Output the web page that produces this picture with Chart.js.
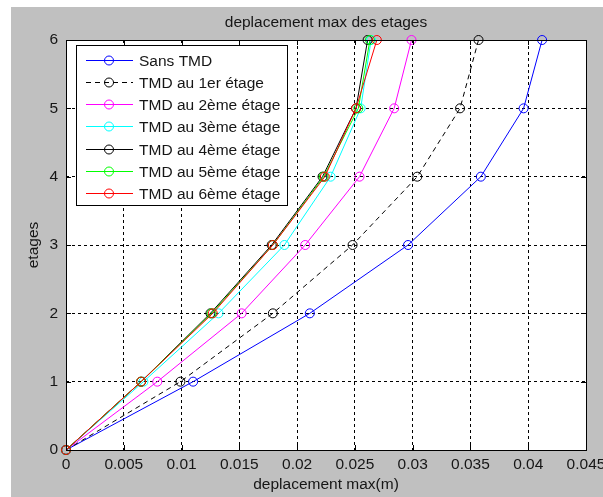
<!DOCTYPE html>
<html>
<head>
<meta charset="utf-8">
<script src="https://cdn.jsdelivr.net/npm/chart.js@4/dist/chart.umd.min.js"></script>
<style>
html,body{margin:0;padding:0;background:#fff;}
canvas{display:block;}
</style>
</head>
<body>
<canvas id="c" width="603" height="497"></canvas>
<script>
// ---- data ----
const floors = [0, 1, 2, 3, 4, 5, 6];
const sansTMD = [0, 0.0110, 0.0211, 0.0296, 0.0359, 0.0396, 0.0412];
const tmd1 = [0, 0.0099, 0.0179, 0.0248, 0.0304, 0.0341, 0.0357];
const tmd2 = [0, 0.0079, 0.0152, 0.0207, 0.0254, 0.0284, 0.0299];
const tmd3 = [0, 0.0067, 0.0132, 0.0189, 0.0229, 0.0255, 0.0264];
const tmd4 = [0, 0.0065, 0.0125, 0.0178, 0.0222, 0.0251, 0.0261];
const tmd5 = [0, 0.0065, 0.0126, 0.0179, 0.0223, 0.0253, 0.0263];
const tmd6 = [0, 0.0065, 0.0127, 0.0179, 0.0224, 0.0251, 0.0269];
const seriesLabels = ['Sans TMD', 'TMD au 1er étage', 'TMD au 2ème étage', 'TMD au 3ème étage', 'TMD au 4ème étage', 'TMD au 5ème étage', 'TMD au 6ème étage'];
const xTicks = [0, 0.005, 0.01, 0.015, 0.02, 0.025, 0.03, 0.035, 0.04, 0.045];
const yTicks = [0, 1, 2, 3, 4, 5, 6];
const chartTitle = 'deplacement max des etages';
const xTitle = 'deplacement max(m)';
const yTitle = 'etages';

const allSeries = [sansTMD, tmd1, tmd2, tmd3, tmd4, tmd5, tmd6];
const colors = ['#0000ff', '#000000', '#ff00ff', '#00ffff', '#000000', '#00ff00', '#ff0000'];
const dashes = [[], [5, 4], [], [], [], [], []];
const FONT = "'Liberation Sans', Arial, Helvetica, sans-serif";
const TXT = '#161616';

const datasets = allSeries.map((s, i) => ({
  label: seriesLabels[i],
  data: s.map((v, k) => ({x: v, y: floors[k]})),
  showLine: true,
  borderColor: colors[i],
  borderWidth: 1,
  borderDash: dashes[i],
  pointStyle: 'circle',
  pointRadius: 4.5,
  pointBorderWidth: 1,
  pointBorderColor: colors[i],
  pointBackgroundColor: 'rgba(0,0,0,0)',
  fill: false,
  tension: 0,
  clip: false,
  order: 6 - i
}));

const matlabPlugin = {
  id: 'matlab',
  beforeDraw(chart) {
    const {ctx, chartArea: a, width, height} = chart;
    ctx.save();
    ctx.fillStyle = '#ffffff';
    ctx.fillRect(0, 0, width, height);
    ctx.fillStyle = '#c0c0c0';
    ctx.fillRect(11, 7, width - 11, height - 7);
    ctx.fillStyle = '#ffffff';
    ctx.fillRect(a.left, a.top, a.right - a.left, a.bottom - a.top);
    // title
    ctx.fillStyle = TXT;
    ctx.font = '15.5px ' + FONT;
    ctx.textAlign = 'center';
    ctx.textBaseline = 'middle';
    ctx.fillText(chartTitle, (a.left + a.right) / 2, 23);
    ctx.restore();
  },
  afterDatasetsDraw(chart) {
    const {ctx, chartArea: a, scales} = chart;
    ctx.save();
    // axes box
    ctx.strokeStyle = '#000';
    ctx.lineWidth = 1;
    ctx.setLineDash([]);
    ctx.strokeRect(Math.round(a.left) + 0.5, Math.round(a.top) + 0.5, Math.round(a.right - a.left), Math.round(a.bottom - a.top));
    // inward ticks
    const tl = 5;
    ctx.beginPath();
    scales.x.ticks.forEach(t => {
      const px = Math.round(scales.x.getPixelForValue(t.value)) + 0.5;
      ctx.moveTo(px, a.bottom); ctx.lineTo(px, a.bottom - tl);
      ctx.moveTo(px, a.top); ctx.lineTo(px, a.top + tl);
    });
    scales.y.ticks.forEach(t => {
      const py = Math.round(scales.y.getPixelForValue(t.value)) + 0.5;
      ctx.moveTo(a.left, py); ctx.lineTo(a.left + tl, py);
      ctx.moveTo(a.right, py); ctx.lineTo(a.right - tl, py);
    });
    ctx.stroke();

    // legend
    const bx = a.left + 10, by = a.top + 5, bw = 211, bh = 160;
    ctx.fillStyle = '#fff';
    ctx.fillRect(bx, by, bw, bh);
    ctx.strokeStyle = '#000';
    ctx.strokeRect(bx + 0.5, by + 0.5, bw, bh);
    chart.data.datasets.forEach((ds, i) => {
      const cy = Math.round(by + 14.5 + 22.3 * i) + 0.5;
      ctx.strokeStyle = ds.borderColor;
      ctx.lineWidth = 1;
      ctx.setLineDash(ds.borderDash);
      ctx.beginPath();
      ctx.moveTo(bx + 10, cy); ctx.lineTo(bx + 57, cy);
      ctx.stroke();
      ctx.setLineDash([]);
      ctx.beginPath();
      ctx.arc(bx + 33, cy, 4.5, 0, Math.PI * 2);
      ctx.stroke();
      ctx.fillStyle = TXT;
      ctx.font = '15.5px ' + FONT;
      ctx.textAlign = 'left';
      ctx.textBaseline = 'middle';
      ctx.fillText(ds.label, bx + 63, cy + 1);
    });
    ctx.restore();
  }
};

new Chart(document.getElementById('c'), {
  type: 'scatter',
  data: {datasets},
  options: {
    responsive: false,
    animation: false,
    events: [],
    layout: {padding: {top: 40, right: 17, left: 0, bottom: 0}},
    plugins: {legend: {display: false}, tooltip: {enabled: false}, title: {display: false}},
    scales: {
      x: {
        type: 'linear', min: 0, max: 0.045,
        afterBuildTicks(s) { s.ticks = xTicks.map(v => ({value: v})); },
        ticks: {color: TXT, font: {family: FONT, size: 15.5}, padding: 5, maxRotation: 0, autoSkip: false,
          callback: v => String(+v.toFixed(3))},
        grid: {color: '#000', lineWidth: 1, drawTicks: false},
        border: {display: false, dash: [3, 3]},
        title: {display: true, text: xTitle, color: TXT, font: {family: FONT, size: 15.5}, padding: {top: 0, bottom: 3}},
        afterFit(s) { s.height = 47; s.paddingLeft = 0; s.paddingRight = 0; }
      },
      y: {
        type: 'linear', min: 0, max: 6,
        afterBuildTicks(s) { s.ticks = yTicks.map(v => ({value: v})); },
        ticks: {color: TXT, font: {family: FONT, size: 15.5}, padding: 8, autoSkip: false,
          callback: v => String(v)},
        grid: {color: '#000', lineWidth: 1, drawTicks: false},
        border: {display: false, dash: [3, 3]},
        title: {display: true, text: yTitle, color: TXT, font: {family: FONT, size: 15.5}, padding: {top: 24, bottom: 0}},
        afterFit(s) { s.width = 66; s.paddingTop = 0; s.paddingBottom = 0; }
      }
    }
  },
  plugins: [matlabPlugin]
});
</script>
</body>
</html>
